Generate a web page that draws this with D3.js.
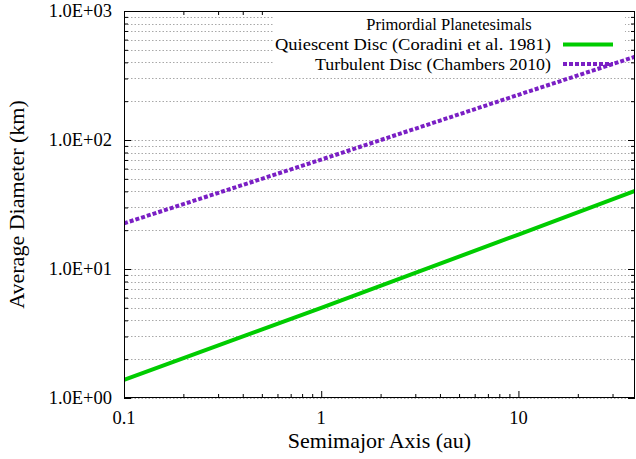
<!DOCTYPE html>
<html>
<head>
<meta charset="utf-8">
<script src="https://cdn.jsdelivr.net/npm/d3@7"></script>
<style>
  html, body { margin: 0; padding: 0; background: #fff; }
  svg { display: block; font-family: "Liberation Serif", "Times New Roman", serif; }
</style>
</head>
<body>
<svg id="chart" width="636" height="459"></svg>
<script>
// Semimajor axis (au) sample points and mean planetesimal diameters (km)
const semimajorAxis = [0.1, 1, 10, 39];
const quiescentDiameter = [1.38, 5.0, 18.5, 40.3];
const turbulentDiameter = [22.6, 70.5, 224, 442];

const xMajorTicks = [0.1, 1, 10];
const xTickLabels = ["0.1", "1", "10"];
const yMajorTicks = [1, 10, 100, 1000];
const yTickLabels = ["1.0E+00", "1.0E+01", "1.0E+02", "1.0E+03"];

const legendTitle = "Primordial Planetesimals";
const seriesNames = ["Quiescent Disc (Coradini et al. 1981)", "Turbulent Disc (Chambers 2010)"];

const svg = d3.select("#chart");
const m = { left: 124, right: 635, top: 11, bottom: 398 };

const x = d3.scaleLog().domain([0.1, 39]).range([m.left, m.right]);
const y = d3.scaleLog().domain([1, 1000]).range([m.bottom, m.top]);

// minor tick values for each log decade
const xMinor = [];
[0.1, 1, 10].forEach(d => { for (let k = 2; k <= 9; k++) { const v = d * k; if (v <= 39) xMinor.push(v); } });
const yMinor = [];
[1, 10, 100].forEach(d => { for (let k = 2; k <= 9; k++) yMinor.push(d * k); });

// horizontal grid (major + minor)
svg.append("g").selectAll("line")
  .data(yMajorTicks.concat(yMinor))
  .join("line")
  .attr("x1", m.left).attr("x2", m.right)
  .attr("y1", d => Math.round(y(d)) + 0.5).attr("y2", d => Math.round(y(d)) + 0.5)
  .attr("stroke", "#a8a8a8").attr("stroke-width", 1)
  .attr("stroke-dasharray", "1.5,2");

// axes with inward ticks on all four sides
function tickAxis(axisGen, tx, ty, vals, size) {
  const g = svg.append("g").attr("transform", `translate(${tx},${ty})`)
    .call(axisGen.tickValues(vals).tickSize(size).tickFormat(""));
  g.select(".domain").remove();
  g.selectAll("line").attr("stroke", "#000").attr("stroke-width", 1);
  return g;
}
tickAxis(d3.axisBottom(x), 0, m.bottom, xMajorTicks, -7);
tickAxis(d3.axisBottom(x), 0, m.bottom, xMinor, -4);
tickAxis(d3.axisTop(x), 0, m.top, xMajorTicks, -7);
tickAxis(d3.axisTop(x), 0, m.top, xMinor, -4);
tickAxis(d3.axisLeft(y), m.left, 0, yMajorTicks, -7);
tickAxis(d3.axisLeft(y), m.left, 0, yMinor, -4);
tickAxis(d3.axisRight(y), m.right, 0, yMajorTicks, -7);
tickAxis(d3.axisRight(y), m.right, 0, yMinor, -4);

// tick labels
svg.append("g").selectAll("text")
  .data(xMajorTicks)
  .join("text")
  .attr("x", d => x(d)).attr("y", m.bottom + 26)
  .attr("text-anchor", "middle")
  .attr("font-size", 18.5)
  .text((d, i) => xTickLabels[i]);

svg.append("g").selectAll("text")
  .data(yMajorTicks)
  .join("text")
  .attr("x", m.left - 12).attr("y", d => y(d) + 6)
  .attr("text-anchor", "end")
  .attr("font-size", 18.5)
  .text((d, i) => yTickLabels[i]);

// axis titles
svg.append("text")
  .attr("x", (m.left + m.right) / 2 - 0).attr("y", 448)
  .attr("text-anchor", "middle").attr("font-size", 22)
  .text("Semimajor Axis (au)");
svg.append("text")
  .attr("transform", `translate(24,${(m.top + m.bottom) / 2}) rotate(-90)`)
  .attr("text-anchor", "middle").attr("font-size", 22)
  .text("Average Diameter (km)");

// clip series to the plotting area
svg.append("clipPath").attr("id", "plotclip")
  .append("rect").attr("x", m.left).attr("y", m.top)
  .attr("width", m.right - m.left).attr("height", m.bottom - m.top);

const line = d3.line().x(d => x(d[0])).y(d => y(d[1]));
const series = [
  { values: quiescentDiameter, color: "#00cc00", dash: null },
  { values: turbulentDiameter, color: "#7a1fc4", dash: "4,2" }
];

// legend box (drawn before the curves so the turbulent line passes over it)
const lg = svg.append("g");
lg.append("rect").attr("x", 273).attr("y", 12).attr("width", 352).attr("height", 62).attr("fill", "#fff");
lg.append("text").attr("x", 449).attr("y", 30).attr("text-anchor", "middle").attr("font-size", 16.5).text(legendTitle);

series.forEach((s, i) => {
  svg.append("path")
    .datum(semimajorAxis.map((a, j) => [a, s.values[j]]))
    .attr("clip-path", "url(#plotclip)")
    .attr("fill", "none")
    .attr("stroke", s.color).attr("stroke-width", 4)
    .attr("stroke-dasharray", s.dash)
    .attr("d", line);

  const ly = 44.5 + i * 19.5;
  lg.append("text").attr("x", 551).attr("y", ly + 5.5).attr("text-anchor", "end")
    .attr("font-size", 17).attr("textLength", i === 0 ? 276 : 236)
    .attr("lengthAdjust", "spacingAndGlyphs").text(seriesNames[i]);
  lg.append("line").attr("x1", 563).attr("x2", 613).attr("y1", ly).attr("y2", ly)
    .attr("stroke", s.color).attr("stroke-width", 4).attr("stroke-dasharray", s.dash);
});

// plot frame
svg.append("rect")
  .attr("x", m.left + 0.5).attr("y", m.top + 0.5)
  .attr("width", m.right - m.left - 1).attr("height", m.bottom - m.top - 1)
  .attr("fill", "none").attr("stroke", "#000").attr("stroke-width", 1);
</script>
</body>
</html>
